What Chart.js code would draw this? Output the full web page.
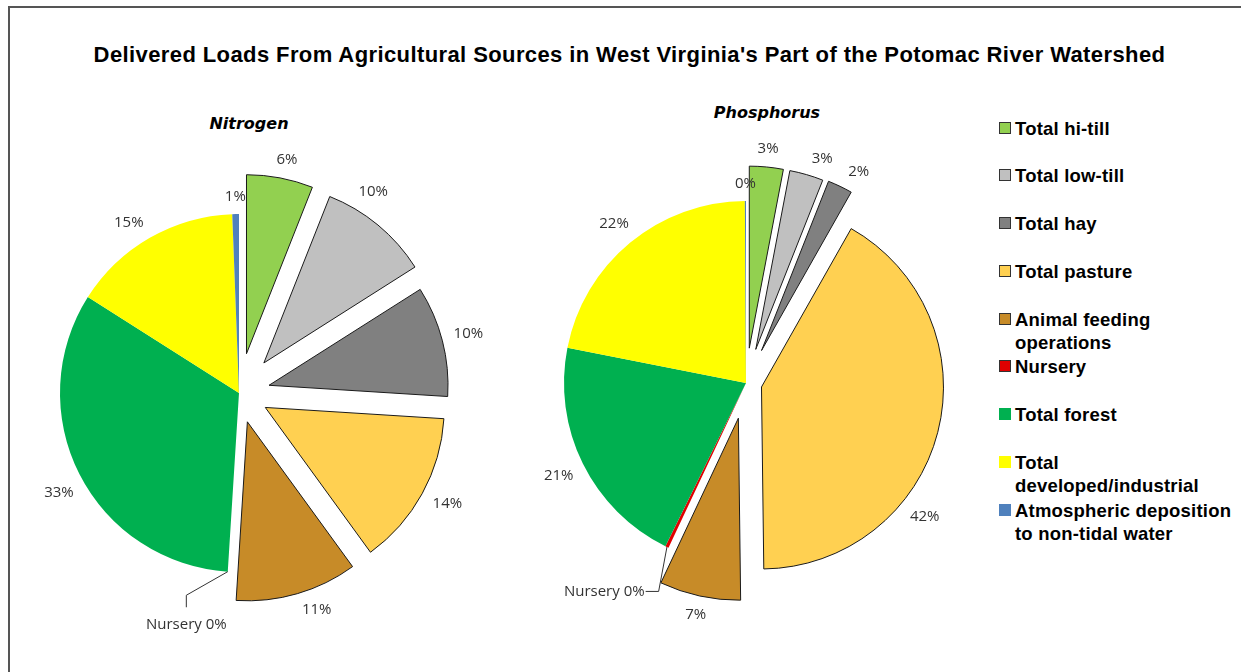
<!DOCTYPE html>
<html>
<head>
<meta charset="utf-8">
<script src="https://cdn.jsdelivr.net/npm/chart.js@4.4.1/dist/chart.umd.min.js"></script>
<style>
  html, body { margin: 0; padding: 0; background: #fff; }
  body { width: 1241px; height: 672px; position: relative; overflow: hidden; font-family: "Liberation Sans", Arial, sans-serif; color: #000; }
  #frame { position: absolute; left: 8px; top: 6px; width: 1300px; height: 700px; border-left: 2px solid #555; border-top: 2px solid #555; }
  #title { position: absolute; left: 0; width: 1259px; top: 42px; line-height: 26px; text-align: center; font-weight: bold; font-size: 22px; letter-spacing: 0.4px; }
  .sub { position: absolute; line-height: 20px; font-family: "DejaVu Sans", sans-serif; font-weight: bold; font-style: italic; font-size: 16px; transform: translateX(-50%); white-space: nowrap; }
  canvas { position: absolute; }
  .item { position: absolute; left: 999px; font-weight: bold; font-size: 18.5px; line-height: 23px; letter-spacing: 0.2px; white-space: nowrap; }
  .sw { position: absolute; left: 0; top: 5px; width: 12px; height: 12px; box-sizing: border-box; }
  .txt { margin-left: 16px; }
</style>
</head>
<body>
<div id="frame"></div>
<div id="title">Delivered Loads From Agricultural Sources in West Virginia's Part of the Potomac River Watershed</div>
<div class="sub" style="left:249px; top:114px;">Nitrogen</div>
<div class="sub" style="left:767px; top:103px;">Phosphorus</div>
<canvas id="nitrogenChart" width="520" height="520" style="left:-21px; top:133px;"></canvas>
<canvas id="phosphorusChart" width="460" height="520" style="left:516px; top:123px;"></canvas>
<div id="legend"></div>

<script>
// --- data (percent of delivered load) ---
const categories = [
  "Total hi-till",
  "Total low-till",
  "Total hay",
  "Total pasture",
  "Animal feeding operations",
  "Nursery",
  "Total forest",
  "Total developed/industrial",
  "Atmospheric deposition to non-tidal water"
];
const nitrogenShares = [6, 10, 10, 14, 11, 0, 33, 15.4, 0.6];
const phosphorusShares = [3, 3, 2.2, 41.6, 7.2, 0.3, 20.8, 21.8, 0.1];

// --- styling ---
const sliceColors = ["#92D050", "#C0C0C0", "#808080", "#FFD051", "#C78B28", "#E00000", "#00B050", "#FFFF00", "#4F81BD"];
const outlined = [1, 1, 1, 1, 1, 0, 0, 0, 0];
const nitrogenExplode = [40, 39, 31, 30, 30, 0, 0, 0, 0];     // px pulled out
const phosphorusExplode = [35, 35, 36, 16, 36, 0, 0, 0, 0];
const nitrogenNudge = [1, -7, 0, -1, -4, 0, -2, -3, 0];       // label angle tweaks, degrees
const phosphorusNudge = [0, 3, 3, 24, 0, 0, 0, 0, 0];
// where Excel wrapped the legend text
const legendBreaks = { 4: "Animal feeding", 7: "Total", 8: "Atmospheric deposition" };

function percentText(values, i) {
  const total = values.reduce((a, b) => a + b, 0);
  return Math.round(values[i] / total * 100) + "%";
}

// pull exploded slices out along their middle angle (keeps radius unchanged)
const explodePlugin = {
  id: "explode",
  beforeDatasetsDraw(chart, args, opts) {
    chart.getDatasetMeta(0).data.forEach((arc, i) => {
      const d = opts.shift[i] || 0;
      if (!d || arc.$exploded) return;
      const baseDraw = arc.draw;
      arc.draw = function (ctx, area) {
        const mid = (this.startAngle + this.endAngle) / 2;
        ctx.save();
        ctx.translate(Math.cos(mid) * d, Math.sin(mid) * d);
        baseDraw.call(this, ctx, area);
        ctx.restore();
      };
      arc.$exploded = true;
    });
  }
};

// percent labels outside the slices, plus the "Nursery 0%" callout
const sliceLabels = {
  id: "sliceLabels",
  afterDatasetsDraw(chart, args, opts) {
    const ctx = chart.ctx;
    const values = chart.data.datasets[0].data;
    ctx.save();
    ctx.font = '15px "Open Sans", sans-serif';
    ctx.fillStyle = "#333";
    ctx.strokeStyle = "#333";
    ctx.lineWidth = 1;
    ctx.textBaseline = "middle";
    chart.getDatasetMeta(0).data.forEach((arc, i) => {
      const mid = (arc.startAngle + arc.endAngle) / 2;
      const shift = opts.shift[i] || 0;
      const cx = arc.x + Math.cos(mid) * shift;
      const cy = arc.y + Math.sin(mid) * shift;
      const text = percentText(values, i);
      const c = opts.callout;
      if (c && c.index === i) {
        const sx = cx + Math.cos(mid) * arc.outerRadius;
        const sy = cy + Math.sin(mid) * arc.outerRadius;
        const a = mid + c.turn * Math.PI / 180;
        const ex = cx + Math.cos(a) * (arc.outerRadius + c.reach);
        const ey = cy + Math.sin(a) * (arc.outerRadius + c.reach);
        ctx.beginPath();
        ctx.moveTo(sx, sy);
        ctx.lineTo(ex, ey);
        if (c.tail === "down") {
          ctx.lineTo(ex, ey + 12);
          ctx.stroke();
          ctx.textAlign = "center";
          ctx.fillText(categories[i] + " " + text, ex, ey + 29);
        } else {
          ctx.lineTo(ex - 13, ey);
          ctx.stroke();
          ctx.textAlign = "right";
          ctx.fillText(categories[i] + " " + text, ex - 14, ey);
        }
        return;
      }
      const a = mid + (opts.nudge[i] || 0) * Math.PI / 180;
      const ux = Math.cos(a), uy = Math.sin(a);
      const w = ctx.measureText(text).width;
      const d = arc.outerRadius + 11 + Math.abs(ux) * w / 2 + Math.abs(uy) * 6;
      ctx.textAlign = "center";
      ctx.fillText(text, cx + ux * d, cy + uy * d);
    });
    ctx.restore();
  }
};

function makePie(id, shares, radius, explode, nudge, callout) {
  return new Chart(document.getElementById(id), {
    type: "pie",
    data: {
      labels: categories,
      datasets: [{
        data: shares,
        radius: radius,
        backgroundColor: sliceColors,
        borderColor: "#1a1a1a",
        borderWidth: outlined
      }]
    },
    options: {
      responsive: false,
      animation: false,
      events: [],
      layout: { padding: 0 },
      plugins: {
        legend: { display: false },
        tooltip: { enabled: false },
        explode: { shift: explode },
        sliceLabels: { shift: explode, nudge: nudge, callout: callout }
      }
    },
    plugins: [explodePlugin, sliceLabels]
  });
}

makePie("nitrogenChart", nitrogenShares, 179, nitrogenExplode, nitrogenNudge,
  { index: 5, turn: 11, reach: 30, tail: "down" });
makePie("phosphorusChart", phosphorusShares, 182, phosphorusExplode, phosphorusNudge,
  { index: 5, turn: -3, reach: 44, tail: "left" });

// --- shared legend on the right ---
const legend = document.getElementById("legend");
categories.forEach((name, i) => {
  const item = document.createElement("div");
  item.className = "item";
  item.style.top = (128 + i * 47.75 - 11.5) + "px";
  const sw = document.createElement("div");
  sw.className = "sw";
  sw.style.background = sliceColors[i];
  if (outlined[i] || i === 5) sw.style.border = "1px solid #333";
  item.appendChild(sw);
  const txt = document.createElement("div");
  txt.className = "txt";
  const first = legendBreaks[i];
  if (first) {
    txt.innerHTML = first + "<br>" + name.slice(first.length + 1);
  } else {
    txt.textContent = name;
  }
  item.appendChild(txt);
  legend.appendChild(item);
});
</script>
</body>
</html>
